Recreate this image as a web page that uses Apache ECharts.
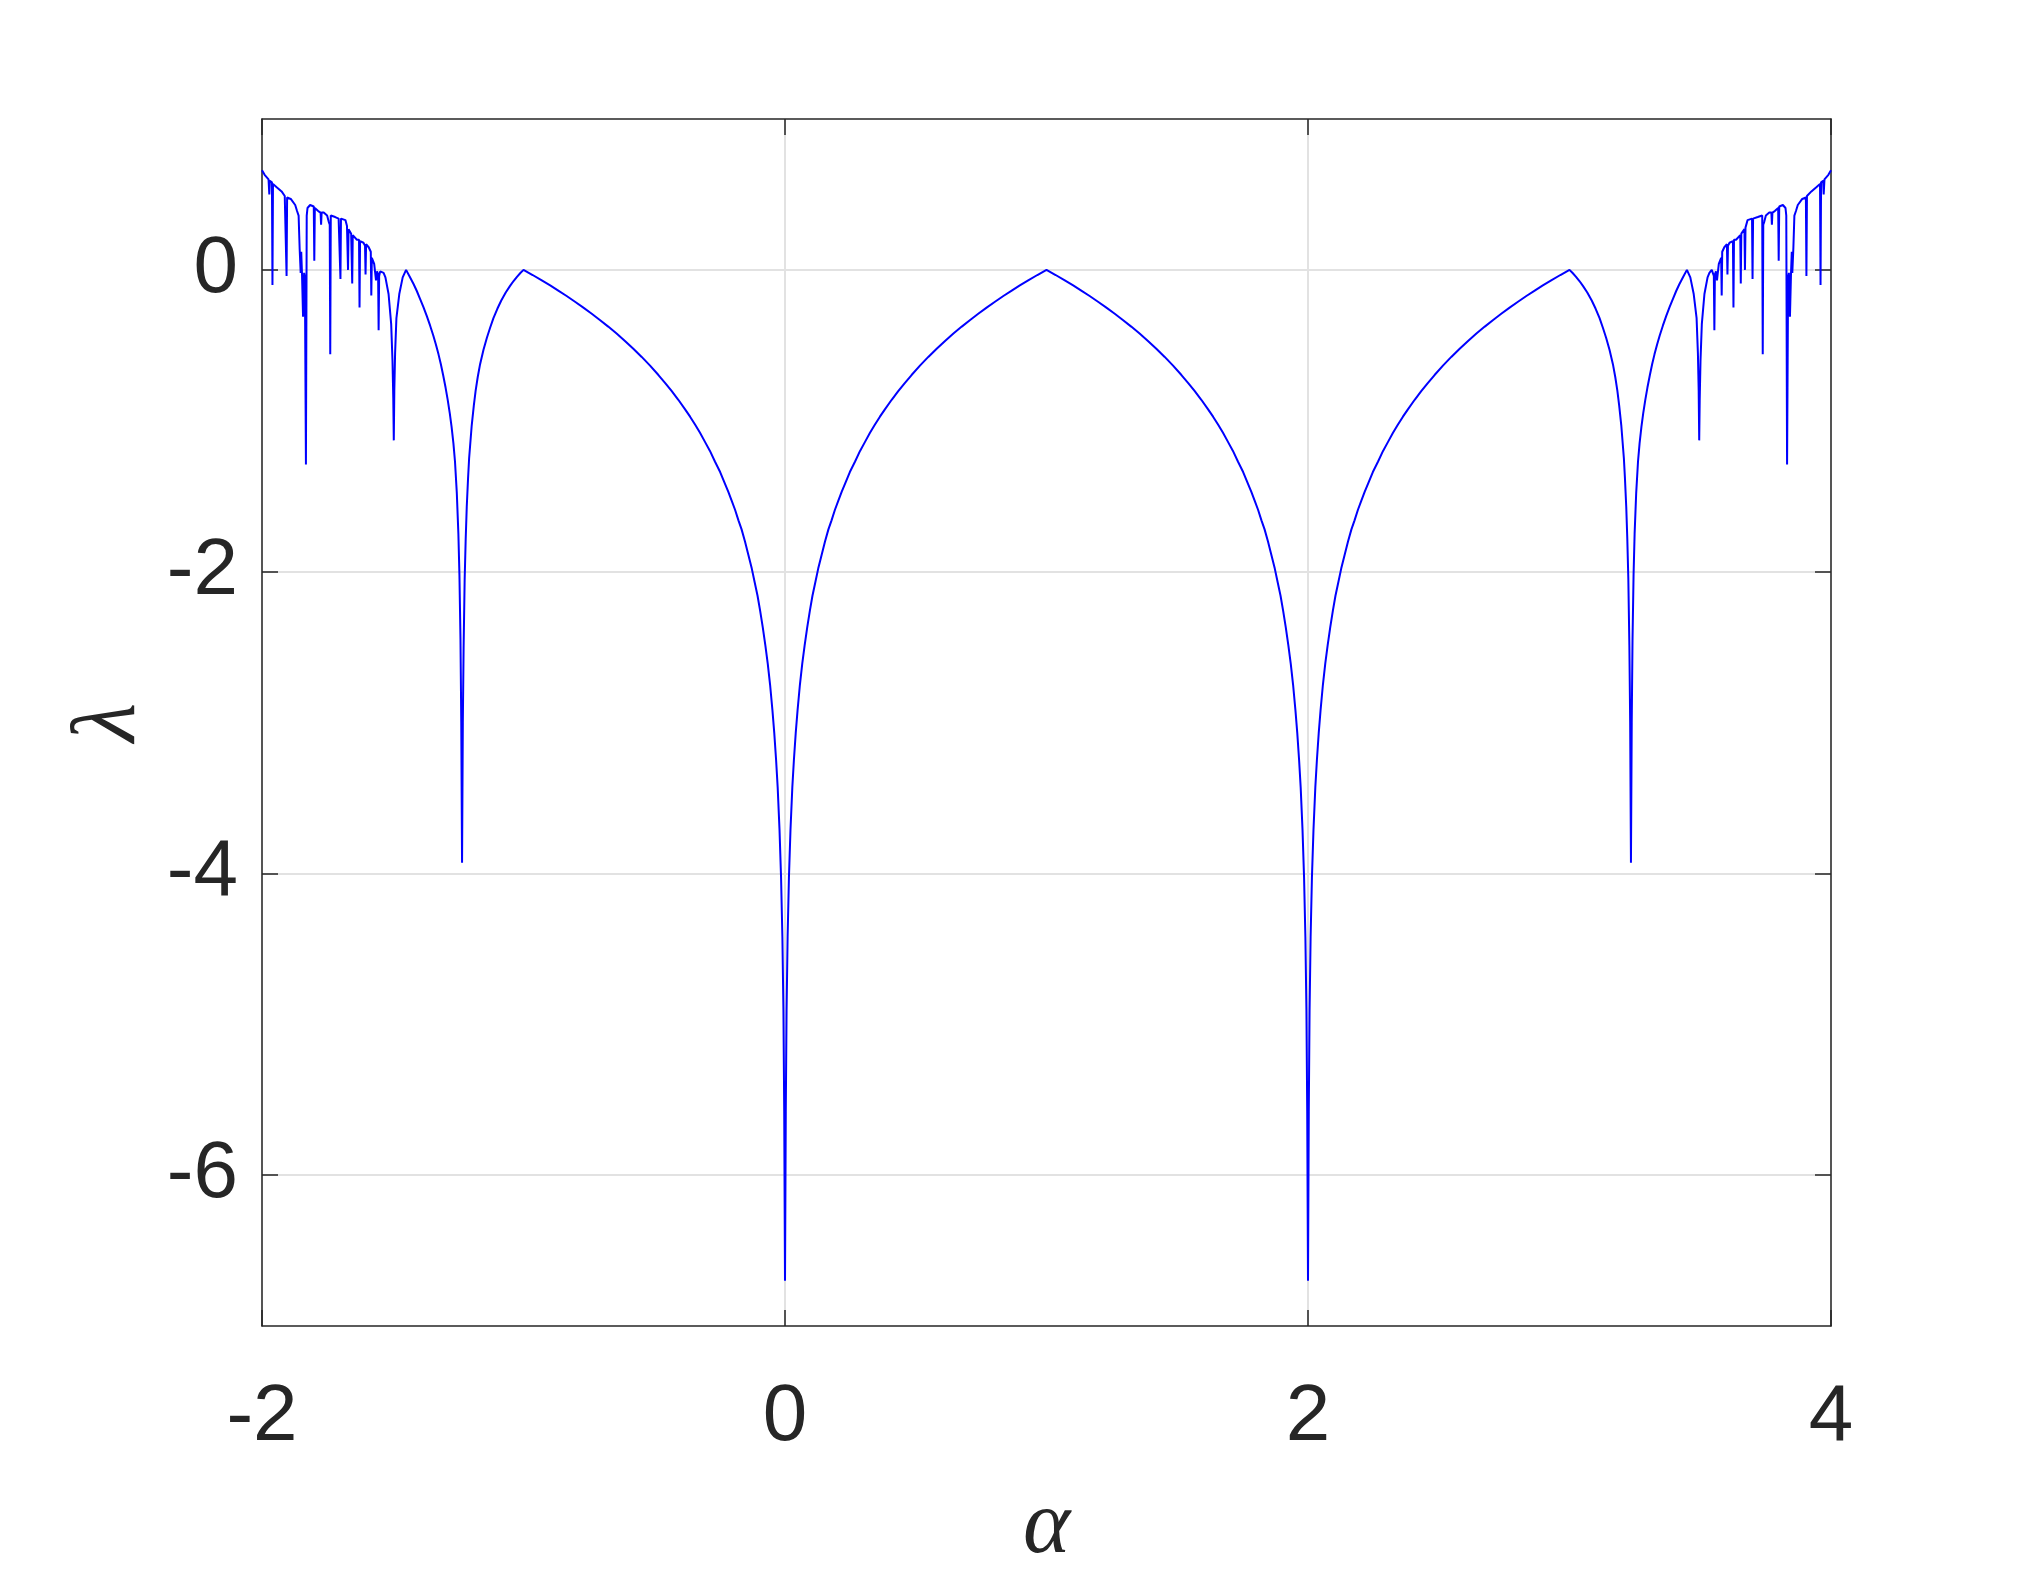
<!DOCTYPE html>
<html>
<head>
<meta charset="utf-8">
<script src="https://cdn.jsdelivr.net/npm/echarts@6/dist/echarts.min.js"></script>
<style>
  html, body { margin: 0; padding: 0; background: #fff; }
  #chart { width: 2023px; height: 1573px; }
</style>
</head>
<body>
<div id="chart"></div>
<script>
// [alpha, lambda], segment by segment
var fringeLeft = [
  [-2.000, 0.66], [-1.990, 0.63], [-1.975, 0.60], [-1.972, 0.50], [-1.970, 0.59],
  [-1.962, 0.58], [-1.960, -0.10], [-1.958, 0.57], [-1.945, 0.55], [-1.925, 0.52],
  [-1.913, 0.49], [-1.908, 0.49], [-1.906, -0.04], [-1.904, 0.48], [-1.890, 0.47],
  [-1.873, 0.43], [-1.866, 0.39], [-1.860, 0.36], [-1.856, 0.14], [-1.852, -0.02],
  [-1.850, 0.12], [-1.847, -0.03], [-1.843, -0.31], [-1.839, -0.02], [-1.836, -0.05],
  [-1.832, -1.29], [-1.829, 0.36], [-1.826, 0.41], [-1.816, 0.43], [-1.802, 0.42],
  [-1.800, 0.06], [-1.798, 0.41], [-1.785, 0.39], [-1.776, 0.38], [-1.774, 0.30],
  [-1.772, 0.38], [-1.764, 0.38], [-1.751, 0.36], [-1.745, 0.32], [-1.741, 0.30],
  [-1.739, -0.56], [-1.737, 0.36], [-1.720, 0.35], [-1.707, 0.34], [-1.702, 0.34],
  [-1.700, -0.06], [-1.698, 0.34], [-1.681, 0.33], [-1.675, 0.29], [-1.673, 0.28],
  [-1.671, 0.00], [-1.669, 0.27], [-1.659, 0.24], [-1.657, 0.24], [-1.655, -0.09],
  [-1.653, 0.23], [-1.637, 0.20], [-1.629, 0.20], [-1.627, -0.25], [-1.625, 0.19],
  [-1.612, 0.18], [-1.606, 0.16], [-1.604, -0.03], [-1.602, 0.17], [-1.592, 0.15],
  [-1.584, 0.12], [-1.582, -0.17], [-1.580, 0.08], [-1.571, 0.04], [-1.564, -0.07],
  [-1.560, -0.01], [-1.556, -0.03], [-1.554, -0.40], [-1.552, -0.04], [-1.548, -0.01],
  [-1.544, 0.00]
];
var cuspsLeft = [
  [-1.535, -0.02], [-1.528, -0.05], [-1.516, -0.16], [-1.506, -0.36], [-1.501, -0.60],
  [-1.498, -0.85], [-1.496, -1.13], [-1.494, -0.80], [-1.491, -0.55], [-1.486, -0.32],
  [-1.475, -0.16], [-1.462, -0.05], [-1.449, 0.000], [-1.435, -0.045], [-1.420, -0.095],
  [-1.408, -0.140], [-1.396, -0.190], [-1.383, -0.245], [-1.370, -0.305], [-1.357, -0.370],
  [-1.345, -0.435], [-1.335, -0.495], [-1.325, -0.560], [-1.316, -0.625], [-1.307, -0.700],
  [-1.298, -0.780], [-1.290, -0.860], [-1.282, -0.950], [-1.275, -1.040], [-1.268, -1.150],
  [-1.262, -1.270], [-1.255, -1.480], [-1.249, -1.750], [-1.245, -2.020], [-1.241, -2.450],
  [-1.238, -3.000], [-1.235, -3.930], [-1.232, -3.000], [-1.229, -2.500], [-1.225, -2.050],
  [-1.221, -1.780], [-1.217, -1.570], [-1.212, -1.380], [-1.208, -1.250], [-1.198, -1.030],
  [-1.190, -0.900], [-1.183, -0.800], [-1.175, -0.710], [-1.166, -0.625], [-1.153, -0.530],
  [-1.140, -0.450], [-1.128, -0.385], [-1.115, -0.320], [-1.100, -0.258], [-1.085, -0.203],
  [-1.068, -0.150], [-1.052, -0.108], [-1.038, -0.074], [-1.025, -0.046], [-1.012, -0.021],
  [-1.000, 0.000]
];
var archA = [
  [-0.965, -0.034], [-0.930, -0.070], [-0.898, -0.103], [-0.867, -0.137], [-0.835, -0.173],
  [-0.803, -0.211], [-0.771, -0.250], [-0.739, -0.291], [-0.708, -0.332], [-0.676, -0.376],
  [-0.644, -0.422], [-0.612, -0.471], [-0.580, -0.523], [-0.548, -0.577], [-0.516, -0.635],
  [-0.484, -0.697], [-0.458, -0.750], [-0.433, -0.804], [-0.408, -0.861], [-0.382, -0.925],
  [-0.363, -0.973], [-0.344, -1.025], [-0.325, -1.080], [-0.306, -1.140], [-0.287, -1.200],
  [-0.268, -1.270], [-0.248, -1.340], [-0.229, -1.420], [-0.217, -1.470], [-0.204, -1.530],
  [-0.191, -1.590], [-0.178, -1.660], [-0.166, -1.720], [-0.153, -1.800], [-0.140, -1.890],
  [-0.127, -1.980], [-0.116, -2.070], [-0.105, -2.160], [-0.095, -2.260], [-0.085, -2.370],
  [-0.075, -2.490], [-0.066, -2.610], [-0.057, -2.750], [-0.048, -2.920], [-0.041, -3.070],
  [-0.034, -3.250], [-0.028, -3.430], [-0.021, -3.710], [-0.015, -4.030], [-0.010, -4.420],
  [-0.006, -4.910], [-0.003, -5.580], [0.000, -6.700]
];
var archB = [
  [0.003, -5.580], [0.006, -4.910], [0.010, -4.420], [0.015, -4.030], [0.021, -3.710],
  [0.028, -3.430], [0.034, -3.250], [0.041, -3.070], [0.048, -2.920], [0.057, -2.750],
  [0.066, -2.610], [0.075, -2.490], [0.085, -2.370], [0.095, -2.260], [0.105, -2.160],
  [0.116, -2.070], [0.127, -1.980], [0.140, -1.890], [0.153, -1.800], [0.166, -1.720],
  [0.178, -1.660], [0.191, -1.590], [0.204, -1.530], [0.217, -1.470], [0.229, -1.420],
  [0.248, -1.340], [0.268, -1.270], [0.287, -1.200], [0.306, -1.140], [0.325, -1.080],
  [0.344, -1.025], [0.363, -0.973], [0.382, -0.925], [0.408, -0.861], [0.433, -0.804],
  [0.458, -0.750], [0.484, -0.697], [0.516, -0.635], [0.548, -0.577], [0.580, -0.523],
  [0.612, -0.471], [0.644, -0.422], [0.676, -0.376], [0.708, -0.332], [0.739, -0.291],
  [0.771, -0.250], [0.803, -0.211], [0.835, -0.173], [0.867, -0.137], [0.898, -0.103],
  [0.930, -0.070], [0.965, -0.034], [1.000, 0.000]
];
var archC = [
  [1.035, -0.034], [1.070, -0.070], [1.102, -0.103], [1.133, -0.137], [1.165, -0.173],
  [1.197, -0.211], [1.229, -0.250], [1.261, -0.291], [1.292, -0.332], [1.324, -0.376],
  [1.356, -0.422], [1.388, -0.471], [1.420, -0.523], [1.452, -0.577], [1.484, -0.635],
  [1.516, -0.697], [1.542, -0.750], [1.567, -0.804], [1.592, -0.861], [1.618, -0.925],
  [1.637, -0.973], [1.656, -1.025], [1.675, -1.080], [1.694, -1.140], [1.713, -1.200],
  [1.732, -1.270], [1.752, -1.340], [1.771, -1.420], [1.783, -1.470], [1.796, -1.530],
  [1.809, -1.590], [1.822, -1.660], [1.834, -1.720], [1.847, -1.800], [1.860, -1.890],
  [1.873, -1.980], [1.884, -2.070], [1.895, -2.160], [1.905, -2.260], [1.915, -2.370],
  [1.925, -2.490], [1.934, -2.610], [1.943, -2.750], [1.952, -2.920], [1.959, -3.070],
  [1.966, -3.250], [1.972, -3.430], [1.979, -3.710], [1.985, -4.030], [1.990, -4.420],
  [1.994, -4.910], [1.997, -5.580], [2.000, -6.700]
];
var archD = [
  [2.003, -5.580], [2.006, -4.910], [2.010, -4.420], [2.015, -4.030], [2.021, -3.710],
  [2.028, -3.430], [2.034, -3.250], [2.041, -3.070], [2.048, -2.920], [2.057, -2.750],
  [2.066, -2.610], [2.075, -2.490], [2.085, -2.370], [2.095, -2.260], [2.105, -2.160],
  [2.116, -2.070], [2.127, -1.980], [2.140, -1.890], [2.153, -1.800], [2.166, -1.720],
  [2.178, -1.660], [2.191, -1.590], [2.204, -1.530], [2.217, -1.470], [2.229, -1.420],
  [2.248, -1.340], [2.268, -1.270], [2.287, -1.200], [2.306, -1.140], [2.325, -1.080],
  [2.344, -1.025], [2.363, -0.973], [2.382, -0.925], [2.408, -0.861], [2.433, -0.804],
  [2.458, -0.750], [2.484, -0.697], [2.516, -0.635], [2.548, -0.577], [2.580, -0.523],
  [2.612, -0.471], [2.644, -0.422], [2.676, -0.376], [2.708, -0.332], [2.739, -0.291],
  [2.771, -0.250], [2.803, -0.211], [2.835, -0.173], [2.867, -0.137], [2.898, -0.103],
  [2.930, -0.070], [2.965, -0.034], [3.000, 0.000]
];
var cuspsRight = [
  [3.012, -0.021], [3.025, -0.046], [3.038, -0.074], [3.052, -0.108], [3.068, -0.150],
  [3.085, -0.203], [3.100, -0.258], [3.115, -0.320], [3.128, -0.385], [3.140, -0.450],
  [3.153, -0.530], [3.166, -0.625], [3.175, -0.710], [3.183, -0.800], [3.190, -0.900],
  [3.198, -1.030], [3.208, -1.250], [3.212, -1.380], [3.217, -1.570], [3.221, -1.780],
  [3.225, -2.050], [3.229, -2.500], [3.232, -3.000], [3.235, -3.930], [3.238, -3.000],
  [3.241, -2.450], [3.245, -2.020], [3.249, -1.750], [3.255, -1.480], [3.262, -1.270],
  [3.268, -1.150], [3.275, -1.040], [3.282, -0.950], [3.290, -0.860], [3.298, -0.780],
  [3.307, -0.700], [3.316, -0.625], [3.325, -0.560], [3.335, -0.495], [3.345, -0.435],
  [3.357, -0.370], [3.370, -0.305], [3.383, -0.245], [3.396, -0.190], [3.408, -0.140],
  [3.420, -0.095], [3.435, -0.045], [3.449, 0.000], [3.462, -0.05], [3.475, -0.16],
  [3.486, -0.32], [3.491, -0.55], [3.494, -0.80], [3.496, -1.13], [3.498, -0.85],
  [3.501, -0.60], [3.506, -0.36], [3.516, -0.16], [3.528, -0.05], [3.535, -0.02],
  [3.544, 0.00]
];
var fringeRight = [
  [3.548, -0.01], [3.552, -0.04], [3.554, -0.40], [3.556, -0.03], [3.560, -0.01],
  [3.564, -0.07], [3.571, 0.04], [3.580, 0.08], [3.582, -0.17], [3.584, 0.12],
  [3.592, 0.15], [3.602, 0.17], [3.604, -0.03], [3.606, 0.16], [3.612, 0.18],
  [3.625, 0.19], [3.627, -0.25], [3.629, 0.20], [3.637, 0.20], [3.653, 0.23],
  [3.655, -0.09], [3.657, 0.24], [3.659, 0.24], [3.669, 0.27], [3.671, 0.00],
  [3.673, 0.28], [3.675, 0.29], [3.681, 0.33], [3.698, 0.34], [3.700, -0.06],
  [3.702, 0.34], [3.707, 0.34], [3.720, 0.35], [3.737, 0.36], [3.739, -0.56],
  [3.741, 0.30], [3.745, 0.32], [3.751, 0.36], [3.764, 0.38], [3.772, 0.38],
  [3.774, 0.30], [3.776, 0.38], [3.785, 0.39], [3.798, 0.41], [3.800, 0.06],
  [3.802, 0.42], [3.816, 0.43], [3.826, 0.41], [3.829, 0.36], [3.832, -1.29],
  [3.836, -0.05], [3.839, -0.02], [3.843, -0.31], [3.847, -0.03], [3.850, 0.12],
  [3.852, -0.02], [3.856, 0.14], [3.860, 0.36], [3.866, 0.39], [3.873, 0.43],
  [3.890, 0.47], [3.904, 0.48], [3.906, -0.04], [3.908, 0.49], [3.913, 0.49],
  [3.925, 0.52], [3.945, 0.55], [3.958, 0.57], [3.960, -0.10], [3.962, 0.58],
  [3.970, 0.59], [3.972, 0.50], [3.975, 0.60], [3.990, 0.63], [4.000, 0.66]
];
var yTicks = [-6, -4, -2, 0];

var curve = [].concat(fringeLeft, cuspsLeft, archA, archB, archC, archD, cuspsRight, fringeRight);

var ink = '#262626';
var gridColor = '#e2e2e2';
var tickFont = { fontFamily: 'Liberation Sans', fontSize: 80, color: ink };

var chart = echarts.init(document.getElementById('chart'));
chart.setOption({
  backgroundColor: '#fff',
  animation: false,
  grid: { left: 262, right: 192, top: 119, bottom: 247, containLabel: false, outerBoundsMode: 'none' },
  xAxis: [
    {
      type: 'value', min: -2, max: 4, interval: 2,
      name: 'α', nameLocation: 'middle', nameGap: 157,
      nameTextStyle: { fontFamily: 'Liberation Serif', fontStyle: 'italic', fontSize: 90, color: ink },
      axisLine: { show: true, onZero: false, lineStyle: { color: ink, width: 1.5 } },
      axisTick: { show: true, inside: true, length: 16, lineStyle: { color: ink, width: 1.5 } },
      axisLabel: Object.assign({ margin: 52 }, tickFont),
      splitLine: { show: true, lineStyle: { color: gridColor, width: 2 } }
    },
    {
      type: 'value', position: 'top', min: -2, max: 4, interval: 2,
      axisLine: { show: true, onZero: false, lineStyle: { color: ink, width: 1.5 } },
      axisTick: { show: true, inside: true, length: 16, lineStyle: { color: ink, width: 1.5 } },
      axisLabel: { show: false },
      splitLine: { show: false }
    }
  ],
  yAxis: [
    {
      type: 'value', min: -7, max: 1,
      name: 'λ', nameLocation: 'middle', nameGap: 107, nameRotate: 90,
      nameTextStyle: { fontFamily: 'Liberation Serif', fontStyle: 'italic', fontSize: 90, color: ink },
      axisLine: { show: true, onZero: false, lineStyle: { color: ink, width: 1.5 } },
      axisTick: { show: true, inside: true, length: 16, customValues: yTicks, lineStyle: { color: ink, width: 1.5 } },
      axisLabel: Object.assign({ margin: 24, customValues: yTicks }, tickFont),
      splitLine: { show: true, lineStyle: { color: gridColor, width: 2 } }
    },
    {
      type: 'value', position: 'right', min: -7, max: 1,
      axisLine: { show: true, onZero: false, lineStyle: { color: ink, width: 1.5 } },
      axisTick: { show: true, inside: true, length: 16, customValues: yTicks, lineStyle: { color: ink, width: 1.5 } },
      axisLabel: { show: false },
      splitLine: { show: false }
    }
  ],
  series: [
    {
      type: 'line',
      xAxisIndex: 0,
      yAxisIndex: 0,
      data: curve,
      showSymbol: false,
      symbol: 'none',
      lineStyle: { color: '#0000ff', width: 2 },
      z: 3
    }
  ]
});
</script>
</body>
</html>
